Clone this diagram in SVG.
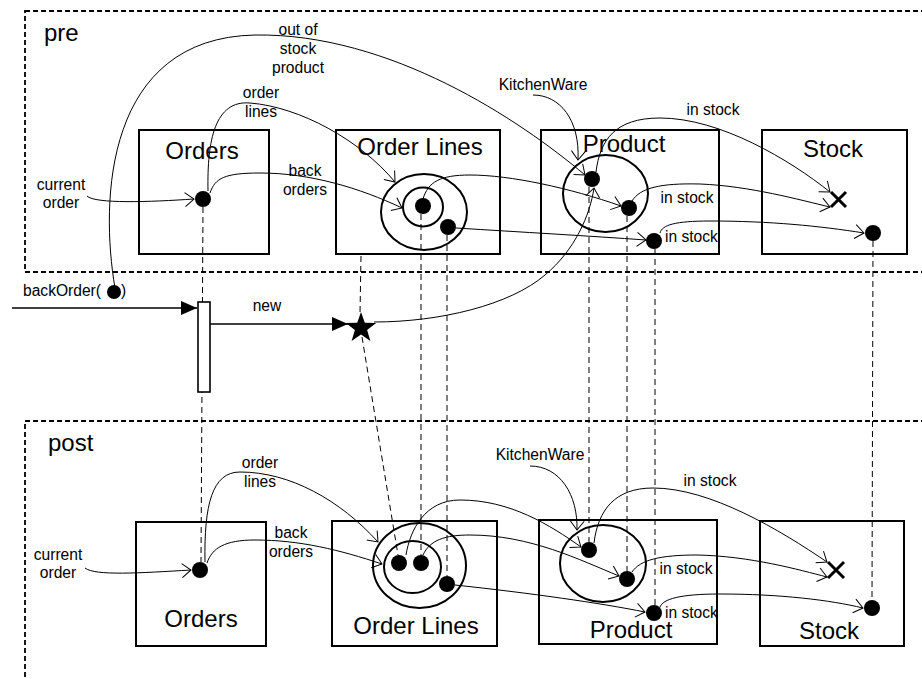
<svg xmlns="http://www.w3.org/2000/svg" width="922" height="679" viewBox="0 0 922 679">
<defs>
<style>
.frame{fill:none;stroke:#000;stroke-width:1.8;stroke-dasharray:5 3}
.box{fill:none;stroke:#000;stroke-width:2}
.ell{fill:none;stroke:#000;stroke-width:2}
.dot{fill:#000}
.conn{fill:none;stroke:#000;stroke-width:1;marker-end:url(#open)}
.life{fill:none;stroke:#000;stroke-width:1;stroke-dasharray:6 4}
.msg{fill:none;stroke:#000;stroke-width:1.6;marker-end:url(#solid)}
.xm{stroke:#000;stroke-width:3;fill:none}
text{font-family:"Liberation Sans",Arial,sans-serif;font-size:15.6px;fill:#000}
.c{text-anchor:middle}
.big{font-size:24px}
</style>
<marker id="open" markerUnits="userSpaceOnUse" markerWidth="20" markerHeight="20" refX="9" refY="8" orient="auto" overflow="visible">
<path d="M0,1 L9,8 L0,15" fill="none" stroke="#000" stroke-width="1"/>
</marker>
<marker id="solid" markerUnits="userSpaceOnUse" markerWidth="20" markerHeight="20" refX="16" refY="7" orient="auto" overflow="visible">
<path d="M0,0 L16,7 L0,14 z" fill="#000"/>
</marker>
</defs>
<rect width="922" height="679" fill="#fff"/>

<g id="frames">
<rect class="frame" x="25" y="11" width="920" height="261"/>
<text class="big" x="44" y="41">pre</text>
<rect class="frame" x="25" y="421" width="920" height="300"/>
<text class="big" x="48" y="451">post</text>
</g>

<g id="lifelines">
<path class="life" d="M203,207 L201,562"/>
<path class="life" d="M361,256 L360,314"/>
<path class="life" d="M362,337 L398,555"/>
<path class="life" d="M421,214 L421,555"/>
<path class="life" d="M447,235 L447,576"/>
<path class="life" d="M589,187 L589,542"/>
<path class="life" d="M627,216 L627,571"/>
<path class="life" d="M655,249 L655,605"/>
<path class="life" d="M873,241 L872,600"/>
</g>

<g id="pre-orders">
<rect class="box" x="139" y="130" width="130" height="124"/>
<text class="big c" x="202" y="159">Orders</text>
<circle class="dot" cx="203" cy="199" r="8"/>
</g>
<g id="pre-orderlines">
<rect class="box" x="336" y="130" width="164" height="124"/>
<text class="big c" x="420" y="155">Order Lines</text>
<ellipse class="ell" cx="424" cy="212" rx="43" ry="38"/>
<ellipse class="ell" cx="423" cy="207" rx="20" ry="19.5"/>
<circle class="dot" cx="423" cy="206" r="8"/>
<circle class="dot" cx="448" cy="227" r="8"/>
</g>
<g id="pre-product">
<rect class="box" x="541" y="130" width="178" height="124"/>
<text class="big c" x="624" y="152">Product</text>
<ellipse class="ell" cx="605.5" cy="193.5" rx="42.5" ry="38.5"/>
<circle class="dot" cx="592" cy="179" r="8"/>
<circle class="dot" cx="629" cy="208" r="8"/>
<circle class="dot" cx="654" cy="241" r="8"/>
</g>
<g id="pre-stock">
<rect class="box" x="762" y="130" width="145" height="124"/>
<text class="big c" x="833" y="157">Stock</text>
<path class="xm" d="M831,192 L846,207 M846,192 L831,207"/>
<circle class="dot" cx="873" cy="233" r="8"/>
</g>

<g id="post-orders">
<rect class="box" x="136" y="522" width="130" height="124"/>
<text class="big c" x="201" y="627">Orders</text>
<circle class="dot" cx="200" cy="570" r="8"/>
</g>
<g id="post-orderlines">
<rect class="box" x="332" y="521" width="165" height="125"/>
<text class="big c" x="416" y="634">Order Lines</text>
<ellipse class="ell" cx="419.5" cy="565.5" rx="46.5" ry="42.5"/>
<ellipse class="ell" cx="412.5" cy="567" rx="28.5" ry="26"/>
<circle class="dot" cx="399" cy="563" r="8"/>
<circle class="dot" cx="421" cy="563" r="8"/>
<circle class="dot" cx="447" cy="584" r="8"/>
</g>
<g id="post-product">
<rect class="box" x="539" y="520" width="178" height="124"/>
<text class="big c" x="631" y="638">Product</text>
<ellipse class="ell" cx="603" cy="563.5" rx="43" ry="38.5"/>
<circle class="dot" cx="589" cy="550" r="8"/>
<circle class="dot" cx="627" cy="579" r="8"/>
<circle class="dot" cx="654" cy="613" r="8"/>
</g>
<g id="post-stock">
<rect class="box" x="760" y="521" width="144" height="125"/>
<text class="big c" x="829" y="639">Stock</text>
<path class="xm" d="M828,562 L844,578 M844,562 L828,578"/>
<circle class="dot" cx="872" cy="608" r="8"/>
</g>

<g id="activation">
<rect x="198" y="302" width="12" height="90" fill="#fff" stroke="#000" stroke-width="1.6"/>
</g>
<g id="new-object">
<path d="M361,312 L364.8,322.8 L376.2,323.1 L367.1,330 L370.4,340.9 L361,334.4 L351.6,340.9 L354.9,330 L345.8,323.1 L357.2,322.8 z" fill="#000"/>
</g>

<g id="connectors">
<path class="conn" d="M87,196 C95,204 150,202 194,199"/>
<path class="conn" d="M208,191 C207,140 215,100 250,103 C300,107 360,140 395,182"/>
<path class="conn" d="M210,193 C215,178 225,173 260,173 C310,173 360,188 402,208"/>
<path class="conn" d="M115,288 C100,200 105,38 255,35 C390,33 520,120 585,175"/>
<path class="conn" d="M533,95 C560,95 580,120 578,160"/>
<path class="conn" d="M423,199 C428,182 440,175 470,175 C510,175 570,188 621,206"/>
<path class="conn" d="M456,228 C520,232 590,236 646,240"/>
<path class="conn" d="M374,322 C440,322 510,305 545,275 C575,250 590,215 594,188"/>
<path class="conn" d="M596,172 C600,140 615,118 660,118 C720,118 790,160 830,192"/>
<path class="conn" d="M632,201 C640,188 660,183 700,184 C750,186 800,200 830,207"/>
<path class="conn" d="M660,233 C662,225 675,221 710,221 C770,221 820,226 864,233"/>

<path class="conn" d="M85,568 C95,576 140,573 191,570"/>
<path class="conn" d="M205,562 C204,505 212,472 240,472 C290,472 340,500 378,542"/>
<path class="conn" d="M207,563 C212,548 225,540 255,540 C300,540 340,550 382,564"/>
<path class="conn" d="M530,466 C560,466 578,495 577,530"/>
<path class="conn" d="M406,555 C410,530 425,500 460,500 C510,500 550,525 581,547"/>
<path class="conn" d="M423,555 C430,540 445,535 470,535 C530,535 580,560 619,576"/>
<path class="conn" d="M455,585 C530,593 600,603 645,612"/>
<path class="conn" d="M594,543 C598,510 615,488 653,488 C710,488 780,530 827,562"/>
<path class="conn" d="M632,572 C640,560 660,555 697,555 C750,556 800,570 827,577"/>
<path class="conn" d="M660,607 C663,599 680,594 720,594 C780,594 830,600 863,608"/>

<path class="msg" d="M12,308 L197,308"/>
<path class="msg" d="M210,324 L348,324"/>
</g>

<g id="labels">
<text class="c" x="61" y="190">current</text>
<text class="c" x="61" y="208">order</text>
<text class="c" x="261" y="98">order</text>
<text class="c" x="261" y="117">lines</text>
<text class="c" x="305" y="176">back</text>
<text class="c" x="305" y="195">orders</text>
<text class="c" x="298" y="35">out of</text>
<text class="c" x="298" y="54">stock</text>
<text class="c" x="298" y="73">product</text>
<text class="c" x="543" y="90">KitchenWare</text>
<text class="c" x="713" y="115">in stock</text>
<text class="c" x="687" y="203">in stock</text>
<text x="665" y="242">in stock</text>
<text x="23" y="296">backOrder(</text>
<circle class="dot" cx="114" cy="292" r="7"/>
<text x="121" y="296">)</text>
<text class="c" x="267" y="311">new</text>

<text class="c" x="58" y="560">current</text>
<text class="c" x="58" y="578">order</text>
<text class="c" x="260" y="468">order</text>
<text class="c" x="260" y="487">lines</text>
<text class="c" x="291" y="538">back</text>
<text class="c" x="291" y="557">orders</text>
<text class="c" x="540" y="460">KitchenWare</text>
<text class="c" x="710" y="486">in stock</text>
<text class="c" x="686" y="574">in stock</text>
<text x="665" y="618">in stock</text>
</g>
</svg>
